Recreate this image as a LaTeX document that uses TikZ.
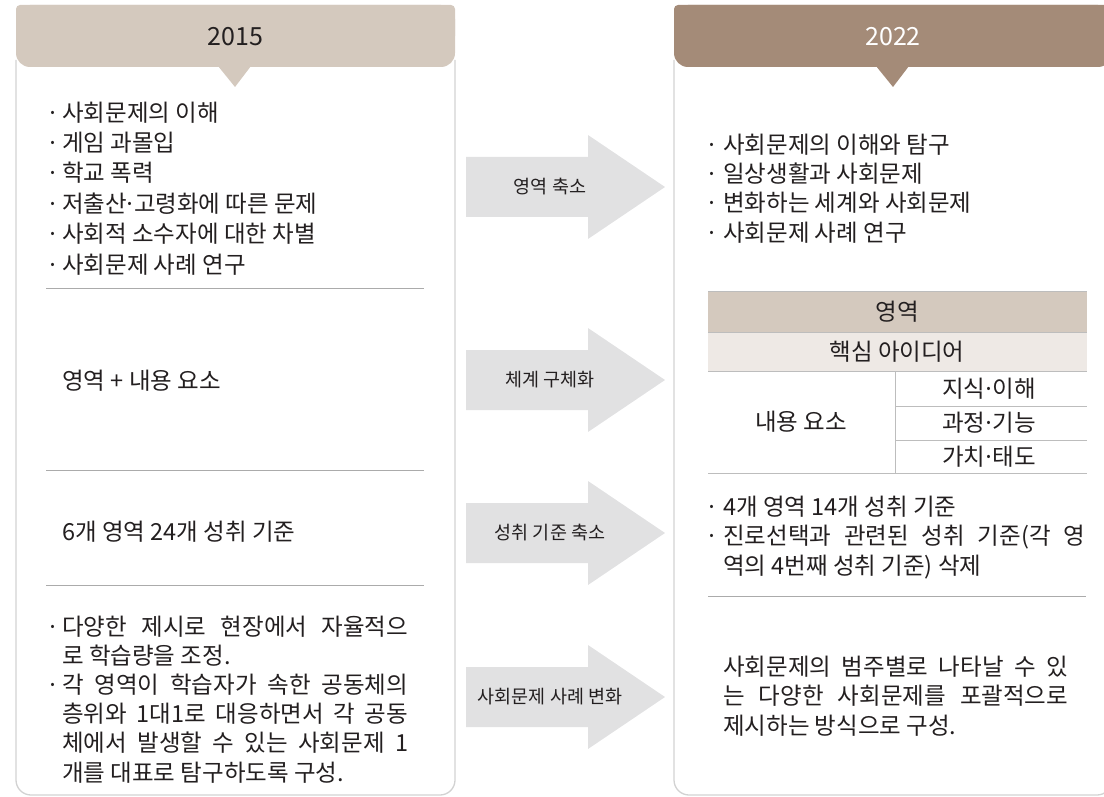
\documentclass[tikz,border=0pt]{standalone}
\usepackage{fontspec}
\setmainfont{Noto Sans CJK KR}
\definecolor{ink}{HTML}{231F20}
\definecolor{headlight}{HTML}{D4C9BE}
\definecolor{headdark}{HTML}{A48B78}
\definecolor{rowlight}{HTML}{EEE9E5}
\definecolor{arrowgray}{HTML}{E1E1E2}
\definecolor{framegray}{HTML}{D2D2D2}
\definecolor{rulegray}{HTML}{ABABAB}
\definecolor{gridgray}{HTML}{BDBDBD}
\newcommand{\md}{\makebox[0.3em]{·}}
\newcommand{\bul}{\makebox[12pt][l]{\makebox[6pt]{·}}}
\newcommand{\rbul}{\makebox[14pt][l]{\makebox[6pt]{·}}}
\newcommand{\jline}[2]{\makebox[#1][s]{#2}}

\begin{document}
\begin{tikzpicture}[x=1pt,y=-1pt,
    every node/.style={inner sep=0pt, text=ink},
    body/.style={font=\fontsize{23.5}{29.2}\selectfont, align=left, anchor=base west},
    cell/.style={font=\fontsize{23.5}{28}\selectfont},
    year/.style={font=\fontsize{25}{30}\selectfont},
    shiftlabel/.style={font=\fontsize{18.5}{22}\selectfont},
    frame/.style={draw=framegray, line width=1.3pt, rounded corners=15pt},
    rule/.style={draw=rulegray, line width=0.9pt},
    grid/.style={draw=gridgray, line width=1pt},
    blockarrow/.style={fill=arrowgray}]
    \useasboundingbox (0,0) rectangle (1104,797);
    \clip (0,0) rectangle (1104,797);

    % panels
    \draw [frame] (16,60) -- (16,795) -- (455,795) -- (455,60);
    \draw [frame] (674,60) -- (674,795) -- (1112,795) -- (1112,60);

    % headers
    \fill [headlight, rounded corners=14pt] (16,5) rectangle (455,67);
    \fill [headlight, rounded corners=4pt] (16,5) rectangle (455,40);
    \fill [headlight] (218,66) -- (235,87) -- (251,66) -- cycle;
    \fill [headdark, rounded corners=14pt] (674,5) rectangle (1112,67);
    \fill [headdark, rounded corners=4pt] (674,5) rectangle (1112,40);
    \fill [headdark] (876,66) -- (893,87) -- (909,66) -- cycle;
    \node [year] (old) at (235.5,37) {2015};
    \node [year, text=white] (new) at (893,37) {2022};

    % 2015 side (multi-line nodes sit on their last baseline)
    \node [body, font=\fontsize{23.5}{30.4}\selectfont] (oldtopics) at (50,273) {\bul 사회문제의 이해\\ \bul 게임 과몰입\\ \bul 학교 폭력\\
      \bul 저출산\md 고령화에 따른 문제\\ \bul 사회적 소수자에 대한 차별\\ \bul 사회문제 사례 연구};
    \draw [rule] (46,288) -- (424,288);
    \node [body] (oldframe) at (62,389) {영역 + 내용 요소};
    \draw [rule] (46,470) -- (424,470);
    \node [body] (oldcount) at (62,540) {6개 영역 24개 성취 기준};
    \draw [rule] (46,585) -- (424,585);
    \node [body] (oldcase) at (50,781) {\jline{358pt}{\bul 다양한 제시로 현장에서 자율적으}\\
      \hspace*{12pt}로 학습량을 조정.\\
      \jline{358pt}{\bul 각 영역이 학습자가 속한 공동체의}\\
      \hspace*{12pt}\jline{346pt}{층위와 1대1로 대응하면서 각 공동}\\
      \hspace*{12pt}\jline{346pt}{체에서 발생할 수 있는 사회문제 1}\\
      \hspace*{12pt}개를 대표로 탐구하도록 구성.};

    % shifts
    \fill [blockarrow] (466,157) -- (588,157) -- (588,135) -- (665,187) -- (588,239) -- (588,217) -- (466,217) -- cycle;
    \fill [blockarrow] (466,350) -- (588,350) -- (588,328) -- (665,380) -- (588,432) -- (588,410) -- (466,410) -- cycle;
    \fill [blockarrow] (466,503) -- (588,503) -- (588,481) -- (665,533) -- (588,585) -- (588,563) -- (466,563) -- cycle;
    \fill [blockarrow] (466,667) -- (588,667) -- (588,645) -- (665,697) -- (588,749) -- (588,727) -- (466,727) -- cycle;
    \node [shiftlabel] (shiftA) at (550,187) {영역 축소};
    \node [shiftlabel] (shiftB) at (550,380) {체계 구체화};
    \node [shiftlabel] (shiftC) at (550,533) {성취 기준 축소};
    \node [shiftlabel] (shiftD) at (550,697) {사회문제 사례 변화};

    % 2022 side
    \node [body] (newtopics) at (709,241) {\rbul 사회문제의 이해와 탐구\\ \rbul 일상생활과 사회문제\\
      \rbul 변화하는 세계와 사회문제\\ \rbul 사회문제 사례 연구};
    \fill [headlight] (708,291) rectangle (1087,332);
    \fill [rowlight] (708,332) rectangle (1087,371);
    \draw [grid] (708,291) -- (1087,291);
    \draw [grid] (708,332) -- (1087,332);
    \draw [grid] (708,371) -- (1087,371);
    \draw [grid] (895,406) -- (1087,406);
    \draw [grid] (895,440) -- (1087,440);
    \draw [grid] (708,473) -- (1087,473);
    \draw [grid] (895,371) -- (895,473);
    \node [cell] (domain) at (897,311.5) {영역};
    \node [cell] (idea) at (897,351.5) {핵심 아이디어};
    \node [cell] (content) at (801,422) {내용 요소};
    \node [cell] (knowledge) at (989,389) {지식\md 이해};
    \node [cell] (process) at (989,423) {과정\md 기능};
    \node [cell] (values) at (989,457) {가치\md 태도};
    \node [body] (newcount) at (709,574) {\rbul 4개 영역 14개 성취 기준\\
      \jline{376pt}{\rbul 진로선택과 관련된 성취 기준(각 영}\\
      \hspace*{14pt}역의 4번째 성취 기준) 삭제};
    \draw [rule] (708,596) -- (1086,596);
    \node [body] (newcase) at (723,734) {\jline{345pt}{사회문제의 범주별로 나타날 수 있}\\
      \jline{345pt}{는 다양한 사회문제를 포괄적으로}\\
      제시하는 방식으로 구성.};
  \end{tikzpicture}
\end{document}
